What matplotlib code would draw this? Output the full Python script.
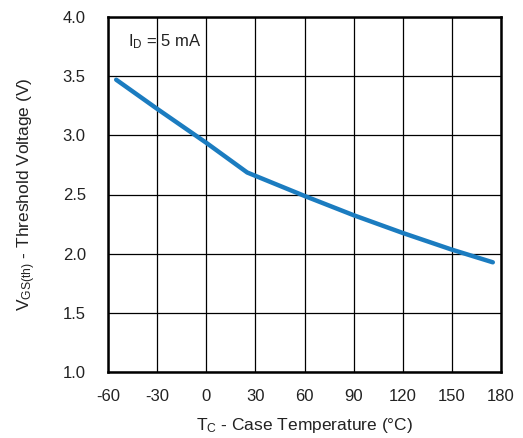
import matplotlib
matplotlib.use('Agg')
import matplotlib.pyplot as plt
import numpy as np

plt.rcParams['font.family'] = ['Liberation Sans', 'DejaVu Sans']
plt.rcParams['mathtext.default'] = 'regular'
plt.rcParams['axes.unicode_minus'] = False

# threshold voltage vs case temperature
temp = [-55, -30, 0, 25, 60, 90, 120, 150, 175]
vth = [3.47, 3.224, 2.937, 2.686, 2.488, 2.325, 2.175, 2.034, 1.927]

xticks = np.arange(-60, 181, 30)
yticks = np.arange(1.0, 4.01, 0.5)

fig = plt.figure(figsize=(5.23, 4.38), dpi=100)
ax = fig.add_axes([108/523, 1 - 372/438, 393/523, 355/438])

ax.plot(temp, vth, color='#1b7cc0', lw=3.2, solid_capstyle='round', zorder=3)

ax.set_xlim(-60, 180)
ax.set_ylim(1.0, 4.0)
ax.set_xticks(xticks)
ax.set_yticks(yticks)
ax.set_yticklabels(['%.1f' % v for v in yticks])
ax.grid(True, color='black', lw=0.9)
ax.tick_params(length=0, labelsize=12, colors='#222222')
ax.tick_params(axis='x', pad=12)
ax.tick_params(axis='y', pad=16)
for s in ax.spines.values():
    s.set_linewidth(1.8)

ax.set_xlabel('$T_C$ - Case Temperature (°C)', fontsize=12.5, labelpad=9, color='#222222')
ax.set_ylabel('$V_{GS(th)}$ - Threshold Voltage (V)', fontsize=12.5, labelpad=18, color='#222222')
ax.text(-47.8, 3.79, '$I_D$ = 5 mA', fontsize=12, color='#222222', va='center')

fig.savefig('out.png', dpi=100)
